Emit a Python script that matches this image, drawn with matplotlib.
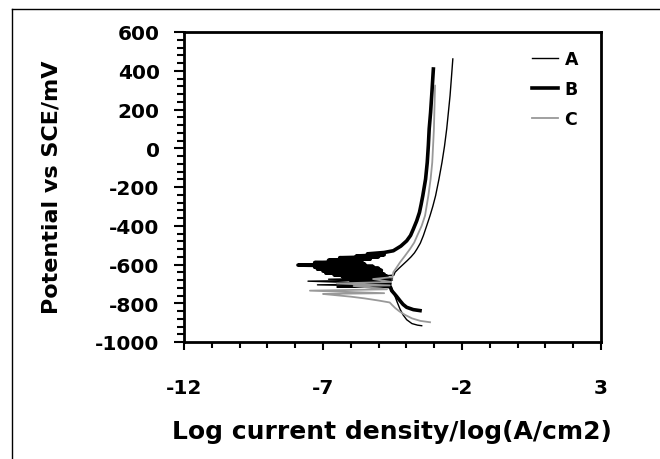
import matplotlib
matplotlib.use("Agg")
import matplotlib.pyplot as plt
from matplotlib.lines import Line2D
from matplotlib.ticker import MultipleLocator

plt.rcParams['font.family'] = ['DejaVu Sans']
plt.rcParams['font.weight'] = 'bold'
plt.rcParams['axes.unicode_minus'] = False

# Curve A (thin black): log current density, potential (mV)
a_logi = [-3.45, -3.6, -3.8, -3.99, -4.12, -4.23, -4.33, -4.42, -4.5, -4.55,
          -6.5, -4.55, -7.2, -4.55, -7.54, -4.5, -6.8, -4.5, -5.5, -4.45,
          -4.41, -4.27, -4.12, -3.97, -3.83, -3.71, -3.62, -3.50, -3.39, -3.27, -3.15,
          -3.05, -2.95, -2.83, -2.72, -2.63, -2.55, -2.49, -2.43, -2.38, -2.33]
a_pot = [-916, -913, -905, -885, -860, -830, -795, -760, -730, -715,
         -716, -712, -705, -700, -686, -680, -676, -670, -665, -655,
         -640, -620, -600, -580, -560, -540, -520, -490, -451, -400, -348,
         -300, -245, -160, -73, 10, 100, 185, 271, 365, 461]

# Curve B (thick black)
b_logi = [-3.51, -3.75, -3.99, -4.12, -4.23, -4.35, -4.45, -4.53, -4.58,
          -5.3, -4.6, -5.6, -4.6, -6.0, -4.6, -5.9, -4.7, -6.3, -4.7, -6.6, -4.8,
          -6.9, -4.9, -7.0, -4.9, -7.2, -5.0, -7.3, -5.2, -7.9, -5.5, -7.3, -5.6,
          -6.8, -5.3, -6.4, -5.0, -5.8, -4.8, -5.4, -4.8, -4.47, -4.2, -3.99, -3.85,
          -3.75, -3.63, -3.53, -3.47, -3.41, -3.31, -3.25, -3.21, -3.18, -3.13,
          -3.09, -3.06, -3.03]
b_pot = [-838, -833, -821, -806, -787, -765, -748, -735, -715,
         -705, -700, -695, -690, -684, -680, -675, -670, -664, -660, -654, -650,
         -644, -640, -634, -630, -624, -620, -614, -610, -603, -598, -590, -584,
         -578, -572, -565, -560, -556, -550, -545, -538, -529, -505, -478, -450,
         -417, -375, -331, -290, -245, -159, -73, 15, 100, 185,
         271, 340, 409]

# Curve C (grey)
c_logi = [-3.15, -3.5, -3.8, -4.05, -4.25, -4.4, -4.52, -4.6,
          -5.0, -5.5, -6.0, -6.5, -7.0,
          -4.8, -7.47, -4.7, -5.9, -4.6, -6.5, -4.55, -5.2, -4.5,
          -4.47, -4.35, -4.23, -4.05, -3.87, -3.72, -3.61, -3.45, -3.33, -3.21,
          -3.13, -3.07, -3.01, -2.97]
c_pot = [-898, -891, -878, -860, -842, -825, -808, -796,
         -786, -775, -766, -759, -752,
         -748, -735, -728, -711, -708, -698, -690, -675, -665,
         -640, -615, -589, -555, -520, -487, -451, -400, -348, -245,
         -160, -73, 100, 323]

series_names = ['A', 'B', 'C']
x_ticks = [-12, -7, -2, 3]
y_ticks = [-1000, -800, -600, -400, -200, 0, 200, 400, 600]

fig = plt.figure(figsize=(6.6, 4.6), dpi=100)
ax = fig.add_axes([184/660, 1-343/460, (601-184)/660, (343-33)/460])

ax.plot(b_logi, b_pot, color='black', lw=2.6, zorder=2)
ax.plot(a_logi, a_pot, color='black', lw=1.0, zorder=3)
ax.plot(c_logi, c_pot, color='#999999', lw=1.3, zorder=4)

ax.set_xlim(-12, 3)
ax.set_ylim(-1000, 600)
ax.set_xticks(x_ticks)
ax.set_yticks(y_ticks)
ax.xaxis.set_minor_locator(MultipleLocator(1))
ax.yaxis.set_minor_locator(MultipleLocator(40))
ax.tick_params(axis='both', which='major', direction='out', width=1.5, labelsize=14.5)
ax.tick_params(axis='x', which='major', length=6, pad=20)
ax.tick_params(axis='y', which='major', length=7.5, pad=10)
ax.tick_params(axis='x', which='minor', direction='out', length=4.5, width=1.5)
ax.tick_params(axis='y', which='minor', direction='out', length=5, width=1.5)
for lab in ax.get_xticklabels() + ax.get_yticklabels():
    lab.set_fontweight('bold')
for s in ax.spines.values():
    s.set_linewidth(2.0)

fig.text(392/660, 1-432/460, 'Log current density/log(A/cm2)', ha='center', va='center',
         fontsize=18, fontweight='bold')
fig.text(52/660, 1-187/460, 'Potential vs SCE/mV', ha='center', va='center',
         rotation=90, fontsize=16, fontweight='bold')

handles = [Line2D([], [], color='black', lw=1.0),
           Line2D([], [], color='black', lw=2.6),
           Line2D([], [], color='#999999', lw=1.3)]
leg = ax.legend(handles, series_names, loc='upper left', bbox_to_anchor=(516/660, 1-35/460),
                bbox_transform=fig.transFigure, frameon=False, fontsize=12.5,
                handlelength=1.5, handletextpad=0.4, labelspacing=0.7)
for t in leg.get_texts():
    t.set_fontweight('bold')

# outer border
fig.add_artist(Line2D([12/660, 12/660], [0, 1-10/460], transform=fig.transFigure, color='black', lw=1.0))
fig.add_artist(Line2D([12/660, 1], [1-10/460, 1-10/460], transform=fig.transFigure, color='black', lw=1.0))

fig.savefig('out.png', dpi=100)
